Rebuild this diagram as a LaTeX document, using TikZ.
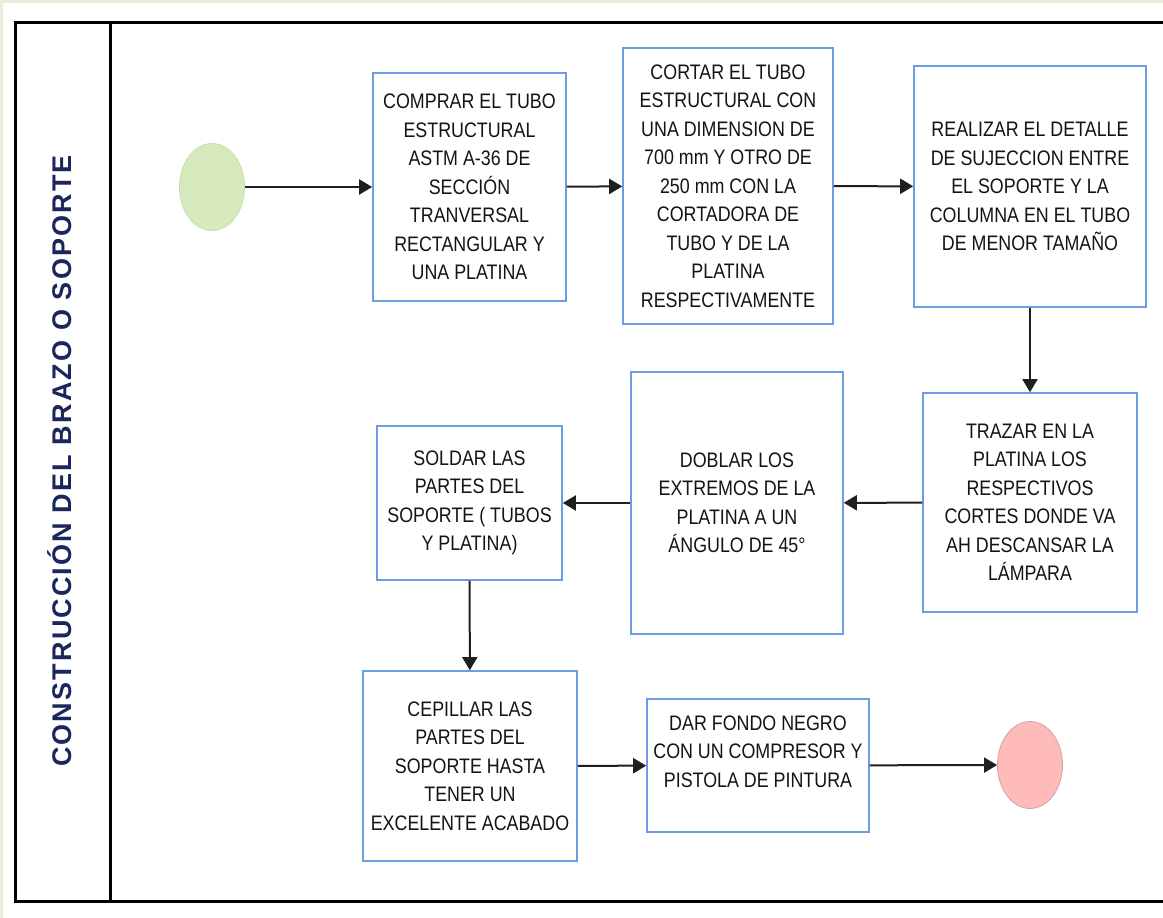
\documentclass[tikz,border=0pt]{standalone}
\usepackage{fontspec}
\setmainfont{Liberation Sans}[FakeStretch=0.85]
\newfontfamily\rotulofont{Liberation Sans}[LetterSpace=8]
\definecolor{cajaazul}{RGB}{108,156,226}
\definecolor{fondo}{RGB}{239,235,221}
\definecolor{inicio}{RGB}{214,234,190}
\definecolor{iniciob}{RGB}{196,224,166}
\definecolor{fin}{RGB}{255,186,186}
\definecolor{finb}{RGB}{205,165,165}
\definecolor{rotulo}{RGB}{26,38,92}
\usetikzlibrary{arrows.meta,shapes.geometric}

\begin{document}
\begin{tikzpicture}[x=1pt,y=-1pt,
  paso/.style={draw=cajaazul,line width=1.6pt,fill=white,align=center,inner sep=0pt,
    font=\fontsize{21}{28.5}\selectfont,text=black!92},
  flujo/.style={-{Triangle[length=13pt,width=15pt]},line width=2pt,black!88},
  evento/.style={ellipse,minimum width=65pt,minimum height=87pt,inner sep=0pt,line width=0.8pt}]
  \useasboundingbox (0,0) rectangle (1163,918);
  \fill[fondo] (0,0) rectangle (1163,918);
  \fill[white] (3,3) rectangle (1163,918);
  % carril
  \draw[line width=3pt] (1175,22) -| (15,901) -- (1175,901);
  \draw[line width=3pt] (110,22) -- (110,901);
  \node[rotate=90,font=\rotulofont\bfseries\fontsize{27}{30}\selectfont,text=rotulo] (titulo) at (60,461) {CONSTRUCCIÓN DEL BRAZO O SOPORTE};
  % fila superior
  \node[evento,fill=inicio,draw=iniciob] (ini) at (212,187) {};
  \node[paso,minimum width=193pt,minimum height=228pt] (p1) at (469.5,187) {COMPRAR EL TUBO\\ESTRUCTURAL\\ASTM A-36 DE\\SECCIÓN\\TRANVERSAL\\RECTANGULAR Y\\UNA PLATINA};
  \node[paso,minimum width=210pt,minimum height=276pt] (p2) at (728,186) {CORTAR EL TUBO\\ESTRUCTURAL CON\\UNA DIMENSION DE\\700 mm Y OTRO DE\\250 mm CON LA\\CORTADORA DE\\TUBO Y DE LA\\PLATINA\\RESPECTIVAMENTE};
  \node[paso,minimum width=232pt,minimum height=241pt] (p3) at (1030,186.5) {REALIZAR EL DETALLE\\DE SUJECCION ENTRE\\EL SOPORTE Y LA\\COLUMNA EN EL TUBO\\DE MENOR TAMAÑO};
  % fila media
  \node[paso,minimum width=214pt,minimum height=219pt] (p4) at (1030,502.5) {TRAZAR EN LA\\PLATINA LOS\\RESPECTIVOS\\CORTES DONDE VA\\AH DESCANSAR LA\\LÁMPARA};
  \node[paso,minimum width=212pt,minimum height=262pt] (p5) at (737,503) {DOBLAR LOS\\EXTREMOS DE LA\\PLATINA A UN\\ÁNGULO DE 45°};
  \node[paso,minimum width=185pt,minimum height=154pt] (p6) at (469.5,503) {SOLDAR LAS\\PARTES DEL\\SOPORTE ( TUBOS\\Y PLATINA)};
  % fila inferior
  \node[paso,minimum width=214pt,minimum height=190pt] (p7) at (470,766) {CEPILLAR LAS\\PARTES DEL\\SOPORTE HASTA\\TENER UN\\EXCELENTE ACABADO};
  \node[paso,minimum width=222pt,minimum height=133pt] (p8) at (758,765.5) {DAR FONDO NEGRO\\CON UN COMPRESOR Y\\PISTOLA DE PINTURA\\\mbox{}};
  \node[evento,fill=fin,draw=finb] (fin) at (1030,765) {};
  % conectores
  \draw[flujo] (ini) -- (p1);
  \draw[flujo] (p1) -- (p2);
  \draw[flujo] (p2) -- (p3);
  \draw[flujo] (p3) -- (p4);
  \draw[flujo] (p4) -- (p5);
  \draw[flujo] (p5) -- (p6);
  \draw[flujo] (p6) -- (p7);
  \draw[flujo] (p7) -- (p8);
  \draw[flujo] (p8) -- (fin);
\end{tikzpicture}
\end{document}
